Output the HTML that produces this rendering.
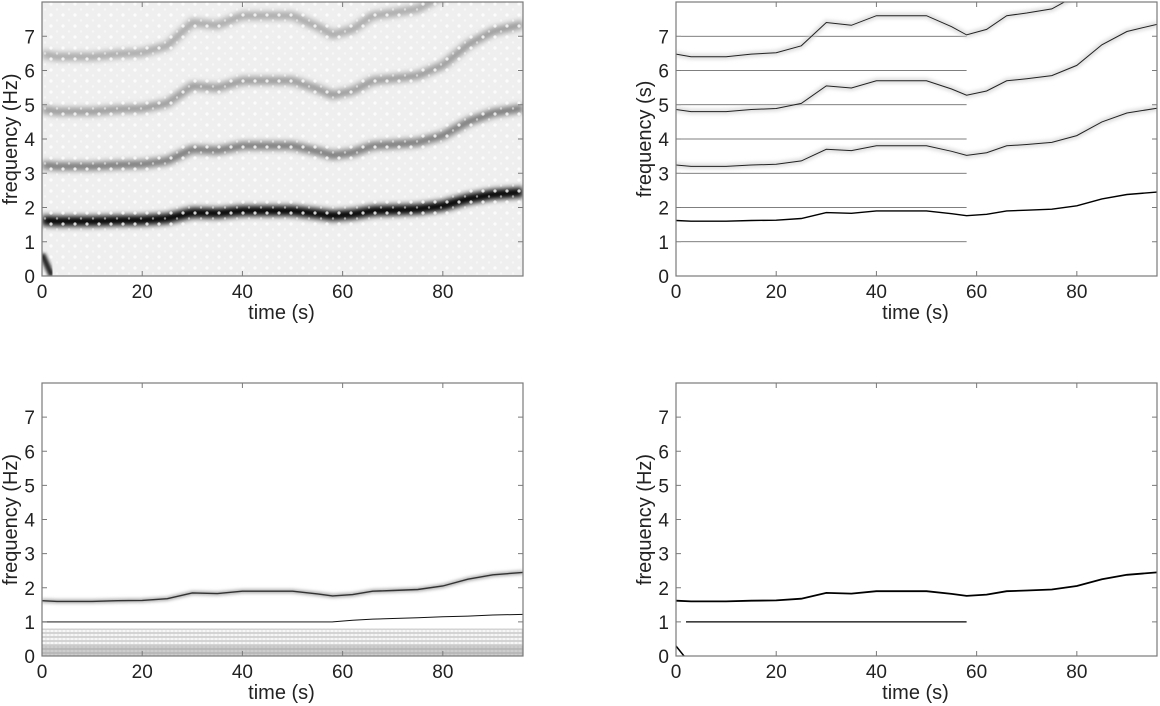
<!DOCTYPE html>
<html><head><meta charset="utf-8"><style>
html,body{margin:0;padding:0;background:#fff;}
svg{display:block;font-family:"Liberation Sans",Arial,sans-serif;}
</style></head><body>
<svg id="fig" width="1160" height="706" viewBox="0 0 1160 706">
<defs>
<filter id="blur3" x="-5%" y="-50%" width="110%" height="200%"><feGaussianBlur stdDeviation="3"/></filter>
<filter id="blur2" x="-5%" y="-50%" width="110%" height="200%"><feGaussianBlur stdDeviation="1.6"/></filter>
<pattern id="dots" width="12" height="11" patternUnits="userSpaceOnUse"><circle cx="3" cy="4" r="1.6" fill="#fff" opacity="0.8"/><circle cx="9" cy="9.5" r="1.2" fill="#fff" opacity="0.5"/></pattern>
<pattern id="hatch" width="4" height="4" patternUnits="userSpaceOnUse"><rect width="4" height="4" fill="#f4f4f4"/><line x1="0" y1="1" x2="4" y2="1" stroke="#777" stroke-width="0.8"/><line x1="2" y1="0" x2="2" y2="4" stroke="#bbb" stroke-width="0.6"/></pattern>
</defs>
</svg>
<script>
// data
const times = [0,3,5,10,15,20,25,30,35,40,45,50,55,58,62,66,70,75,80,85,90,96];
const f0    = [1.62,1.6,1.6,1.6,1.62,1.63,1.68,1.85,1.83,1.9,1.9,1.9,1.82,1.76,1.8,1.9,1.92,1.95,2.05,2.25,2.38,2.45];
const harmonics = [2,3,4];
const stationaryFreqs = [1,2,3,4,5,6,7];
const stationaryEnd = 58;
const xTicks = [0,20,40,60,80];
const yTicks = [0,1,2,3,4,5,6,7];
const yLabels = ["frequency (Hz)","frequency (s)","frequency (Hz)","frequency (Hz)"];
const low1 = [1.0,1.0,1.0,1.0,1.0,1.0,1.0,1.0,1.0,1.0,1.0,1.0,1.0,1.0,1.05,1.08,1.1,1.12,1.15,1.17,1.2,1.22];

const NS="http://www.w3.org/2000/svg";
const svg=document.getElementById('fig');
const panels=[{x:42,y:2,w:481,h:274},{x:676,y:2,w:481,h:274},{x:42,y:383,w:481,h:273},{x:676,y:383,w:481,h:273}];
const TMAX=96, FMAX=8;
function mk(tag,attrs,parent){const e=document.createElementNS(NS,tag);for(const k in attrs)e.setAttribute(k,attrs[k]);(parent||svg).appendChild(e);return e;}
function sx(p,t){return p.x+t/TMAX*p.w;}
function sy(p,f){return p.y+p.h-f/FMAX*p.h;}
function pathFor(p,mult,arr,tEnd){let d="";for(let i=0;i<times.length;i++){if(tEnd!==undefined&&times[i]>tEnd)break;const f=arr[i]*mult;d+=(d?"L":"M")+sx(p,times[i]).toFixed(1)+","+sy(p,Math.min(f,8.2)).toFixed(1);}return d;}
function flatPath(p,f,t0,t1){return "M"+sx(p,t0)+","+sy(p,f)+"L"+sx(p,t1)+","+sy(p,f);}

panels.forEach((p,i)=>{
  const g=mk('g',{});
  
  
  const cid='clip'+i;
  const cp=mk('clipPath',{id:cid},svg.querySelector('defs'));
  mk('rect',{x:p.x,y:p.y,width:p.w,height:p.h},cp);
  const plot=mk('g',{'clip-path':'url(#'+cid+')'},g);
  
  
  if(i===0){
    mk('rect',{x:p.x,y:p.y,width:p.w,height:p.h,fill:'#efefef'},plot);
    [0.5,1.5,2.5,3.5,4.5,5.5,6.5,7.5].forEach(f=>{mk('path',{d:flatPath(p,f,0,TMAX),stroke:'#e2e2e2','stroke-width':6,fill:'none',filter:'url(#blur3)'},plot);});
    stationaryFreqs.forEach(f=>{const l=mk('path',{d:flatPath(p,f+0.25,0,stationaryEnd),stroke:'#d4d4d4','stroke-width':7,fill:'none',filter:'url(#blur3)'},plot);});
    const cols={2:'#777',3:'#999',4:'#a8a8a8'};
    harmonics.forEach(h=>{const l=mk('path',{d:pathFor(p,h,f0),stroke:cols[h],'stroke-width':8,fill:'none',filter:'url(#blur3)'},plot);});
    const l=mk('path',{d:pathFor(p,1,f0),stroke:'#000','stroke-width':10,fill:'none',filter:'url(#blur3)'},plot);
    
    mk('rect',{x:p.x,y:p.y,width:p.w,height:p.h,fill:'url(#dots)'},plot);
    mk('path',{d:`M${p.x},${p.y+p.h-22}L${p.x+10},${p.y+p.h}`,stroke:'#222','stroke-width':6,filter:'url(#blur2)'},plot);
  } else if(i===1){
    stationaryFreqs.forEach(f=>{const l=mk('path',{d:flatPath(p,f,1,stationaryEnd),stroke:'#555','stroke-width':0.7,fill:'none'},plot);
      mk('path',{d:flatPath(p,f,1,stationaryEnd),stroke:'#ddd','stroke-width':6,fill:'none',opacity:0.5,filter:'url(#blur2)'},plot);});
    harmonics.forEach(h=>{mk('path',{d:pathFor(p,h,f0),stroke:'#ccc','stroke-width':6,fill:'none',opacity:0.6,filter:'url(#blur2)'},plot);
      const l=mk('path',{d:pathFor(p,h,f0),stroke:'#222','stroke-width':1,fill:'none'},plot);});
    const l=mk('path',{d:pathFor(p,1,f0),stroke:'#000','stroke-width':1.4,fill:'none'},plot);
    
  } else if(i===2){
    const lowTop=sy(p,0.8);
    mk('rect',{x:p.x,y:lowTop,width:p.w,height:p.y+p.h-lowTop,fill:'url(#hatch)',opacity:0.7},plot);
    mk('rect',{x:p.x,y:sy(p,0.3),width:p.w,height:p.y+p.h-sy(p,0.3),fill:'#999',opacity:0.45},plot);
    const a=mk('path',{d:pathFor(p,1,low1),stroke:'#111','stroke-width':1,fill:'none'},plot);
    
    mk('path',{d:flatPath(p,1,0,stationaryEnd),stroke:'#333','stroke-width':0.8,fill:'none'},plot);
    mk('path',{d:pathFor(p,1,f0),stroke:'#aaa','stroke-width':4,fill:'none',filter:'url(#blur2)'},plot);
    const l=mk('path',{d:pathFor(p,1,f0),stroke:'#333','stroke-width':1.4,fill:'none'},plot);
    
  } else {
    const a=mk('path',{d:flatPath(p,1,2,stationaryEnd),stroke:'#000','stroke-width':1.2,fill:'none'},plot);
    
    const l=mk('path',{d:pathFor(p,1,f0),stroke:'#000','stroke-width':1.8,fill:'none'},plot);
    
    mk('path',{d:`M${p.x},${p.y+p.h-10}L${p.x+8},${p.y+p.h}`,stroke:'#000','stroke-width':1.5},plot);
  }
  const box=mk('rect',{x:p.x,y:p.y,width:p.w,height:p.h,fill:'none',stroke:'#7a7a7a','stroke-width':1.2},g);
  
  xTicks.forEach(t=>{const X=sx(p,t);
    mk('line',{x1:X,y1:p.y+p.h,x2:X,y2:p.y+p.h-5,stroke:'#7a7a7a'},g);
    mk('line',{x1:X,y1:p.y,x2:X,y2:p.y+5,stroke:'#7a7a7a'},g);
    const tx=mk('text',{x:X,y:p.y+p.h+22,'font-size':19,'text-anchor':'middle',fill:'#222'},g);tx.textContent=t;
    });
  yTicks.forEach(f=>{const Y=sy(p,f);
    mk('line',{x1:p.x,y1:Y,x2:p.x+5,y2:Y,stroke:'#7a7a7a'},g);
    mk('line',{x1:p.x+p.w,y1:Y,x2:p.x+p.w-5,y2:Y,stroke:'#7a7a7a'},g);
    const tx=mk('text',{x:p.x-7,y:Y+7,'font-size':19,'text-anchor':'end',fill:'#222'},g);tx.textContent=f;
    });
  const xl=mk('text',{x:p.x+p.w/2-1,y:p.y+p.h+43,'font-size':20,'text-anchor':'middle',fill:'#222'},g);xl.textContent='time (s)';
  
  const cx=p.x-25, cy=p.y+p.h/2;
  const yl=mk('text',{x:cx,y:cy,'font-size':20,'text-anchor':'middle',fill:'#222',transform:`rotate(-90 ${cx} ${cy})`},g);yl.textContent=yLabels[i];
  
});
</script>
</body></html>
